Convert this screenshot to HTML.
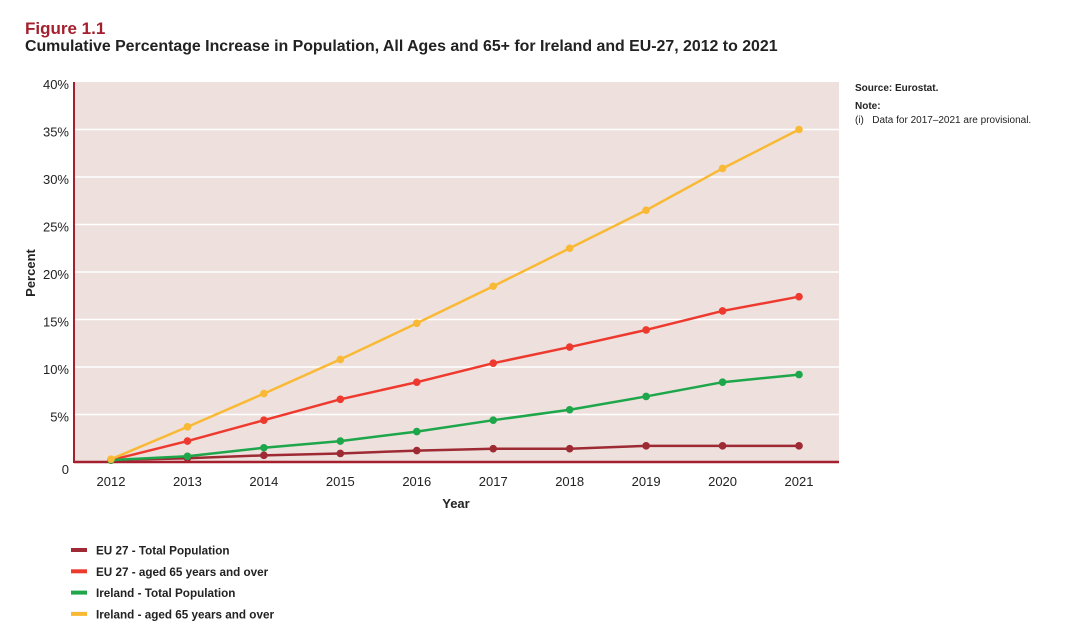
<!DOCTYPE html>
<html><head><meta charset="utf-8"><style>
body{margin:0;width:1080px;height:638px;background:#fff;font-family:"Liberation Sans",sans-serif;overflow:hidden;position:relative}
.t1{position:absolute;left:25px;top:19px;font-size:17px;font-weight:bold;color:#a4202e}
.t2{position:absolute;left:25px;top:38px;font-size:15.9px;font-weight:bold;color:#222}
.src{position:absolute;left:855px;top:82px;font-size:10px;color:#222;line-height:14px}
</style></head><body>
<div class="t1">Figure 1.1</div>
<div class="t2">Cumulative Percentage Increase in Population, All Ages and 65+ for Ireland and EU-27, 2012 to 2021</div>
<div class="src"><b>Source: Eurostat.</b><br><div style="margin-top:4px"><b>Note:</b></div>(i)&nbsp;&nbsp;&nbsp;Data for 2017–2021 are provisional.</div>
<svg id="c" width="1080" height="638" style="position:absolute;left:0;top:0"></svg>
<script>
const years=["2012","2013","2014","2015","2016","2017","2018","2019","2020","2021"];
const yTicks=[0,5,10,15,20,25,30,35,40];
const eu27Total=[0.2,0.4,0.7,0.9,1.2,1.4,1.4,1.7,1.7,1.7];
const eu27Aged=[0.2,2.2,4.4,6.6,8.4,10.4,12.1,13.9,15.9,17.4];
const irlTotal=[0.2,0.6,1.5,2.2,3.2,4.4,5.5,6.9,8.4,9.2];
const irlAged=[0.3,3.7,7.2,10.8,14.6,18.5,22.5,26.5,30.9,35];
const seriesNames=["EU 27 - Total Population","EU 27 - aged 65 years and over","Ireland - Total Population","Ireland - aged 65 years and over"];
const series=[eu27Total,eu27Aged,irlTotal,irlAged];
const colors=["#9e2a34","#ee3a2e","#1ea64a","#f9b934"];
const L=74,R=839,T=82,B=462;
const x=i=>111+i*(799-111)/(years.length-1);
const y=v=>B-(v/40)*(B-T);
const svg=document.getElementById('c');const NS="http://www.w3.org/2000/svg";
function mk(t,a,p){const e=document.createElementNS(NS,t);for(const k in a)e.setAttribute(k,a[k]);(p||svg).appendChild(e);return e;}
const bg=mk('rect',{x:L,y:T,width:R-L,height:B-T,fill:'#ede0dd'});


yTicks.forEach(v=>{
 if(v>0&&v<40){const g=mk('line',{x1:L,x2:R,y1:y(v),y2:y(v),stroke:'#fff','stroke-width':1.5});
 
 }
 const t=mk('text',{x:69,y:y(v)+(v==0?12:7),'text-anchor':'end','font-size':13,fill:'#222'});
 t.textContent=v==0?'0':v+'%';
 
 
});
const ax=mk('line',{x1:L,x2:L,y1:T,y2:B+1,stroke:'#a4202e','stroke-width':2});


const ax2=mk('line',{x1:L,x2:R,y1:B,y2:B,stroke:'#a4202e','stroke-width':2.5});


years.forEach((yr,i)=>{const t=mk('text',{x:x(i),y:486,'text-anchor':'middle','font-size':13,fill:'#222'});t.textContent=yr;
 
 });
const xt=mk('text',{x:456,y:508,'text-anchor':'middle','font-size':13,'font-weight':'bold',fill:'#222'});xt.textContent='Year';


const yt=mk('text',{x:0,y:0,transform:'translate(35,273) rotate(-90)','text-anchor':'middle','font-size':13,'font-weight':'bold',fill:'#222'});yt.textContent='Percent';


series.forEach((s,k)=>{
 const p=mk('polyline',{points:s.map((v,i)=>x(i)+','+y(v)).join(' '),fill:'none',stroke:colors[k],'stroke-width':2.5});
 
 
 s.forEach((v,i)=>{const c=mk('circle',{cx:x(i),cy:y(v),r:3.8,fill:colors[k]});
 
 });
 const ly=550+k*21.3;
 const sw=mk('rect',{x:71,y:ly-2,width:16,height:4,fill:colors[k]});
 
 
 const lt=mk('text',{x:96,y:ly+4.5,'font-size':11.7,'font-weight':'bold',fill:'#222'});lt.textContent=seriesNames[k];
 
 
});
</script>
</body></html>
